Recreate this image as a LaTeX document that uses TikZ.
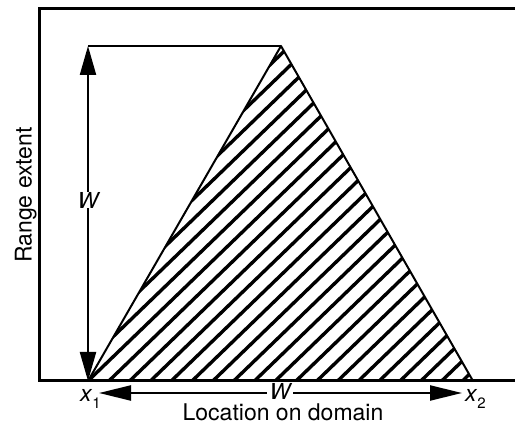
\documentclass[tikz,border=0pt]{standalone}
\usepackage{fontspec}
\setmainfont{TeX Gyre Heros}
\usetikzlibrary{arrows.meta}
\tikzset{
  frame/.style={line width=3pt},
  edge/.style={line width=2pt, line join=round},
  hatch/.style={line width=3.4pt},
  vdim/.style={line width=2.2pt,
    {Triangle[length=29pt,width=16pt]}-{Triangle[length=29pt,width=16pt]}},
  hdim/.style={line width=2.2pt,
    {Triangle[length=32pt,width=15pt]}-{Triangle[length=32pt,width=15pt]}},
  lab/.style={font=\fontsize{23}{25}\selectfont, inner sep=0pt},
  wlab/.style={font=\fontsize{22}{22}\selectfont\itshape, fill=white,
    inner xsep=3pt, inner ysep=0pt},
}
\def\sub#1{\raisebox{-6pt}{\fontsize{15}{15}\selectfont #1}}
\begin{document}
\begin{tikzpicture}[x=1pt,y=-1pt]
\useasboundingbox (0,0) rectangle (515,425);
% corners of the hatched region
\coordinate (x1) at (88,381);
\coordinate (x2) at (473,381);
\coordinate (apex) at (281,46);
\coordinate (top) at (88,46);
\coordinate (hl) at (99,393);
\coordinate (hr) at (462,393);
% axes
\draw[frame] (525,9) -- (39,9) -- (39,381) -- (525,381);
% hatching
\begin{scope}
  \clip (x1) -- (apex) -- (x2) -- cycle;
  \foreach \k in {-20,...,19}
    \draw[hatch] (x1) ++(\k*20.8,0) -- ++(600,-579);
\end{scope}
\draw[edge] (x1) -- (apex) -- (x2);
\draw[edge] (top) -- (apex);
% widths
\draw[vdim] (top) -- (x1);
\node[wlab] (wv) at (88,200) {W};
\draw[hdim] (hl) -- (hr);
\node[wlab, anchor=base] (wh) at (280,399.5) {W};
% labels
\node[lab, anchor=base west] (lx1) at (80,402) {\textit{x}\sub{1}};
\node[lab, anchor=base west] (lx2) at (465,402) {\textit{x}\sub{2}};
\node[lab, anchor=base] (xlab) at (283,420.5) {Location on domain};
\node[lab, anchor=base, rotate=90] (ylab) at (31.5,195) {Range extent};
\end{tikzpicture}
\end{document}
